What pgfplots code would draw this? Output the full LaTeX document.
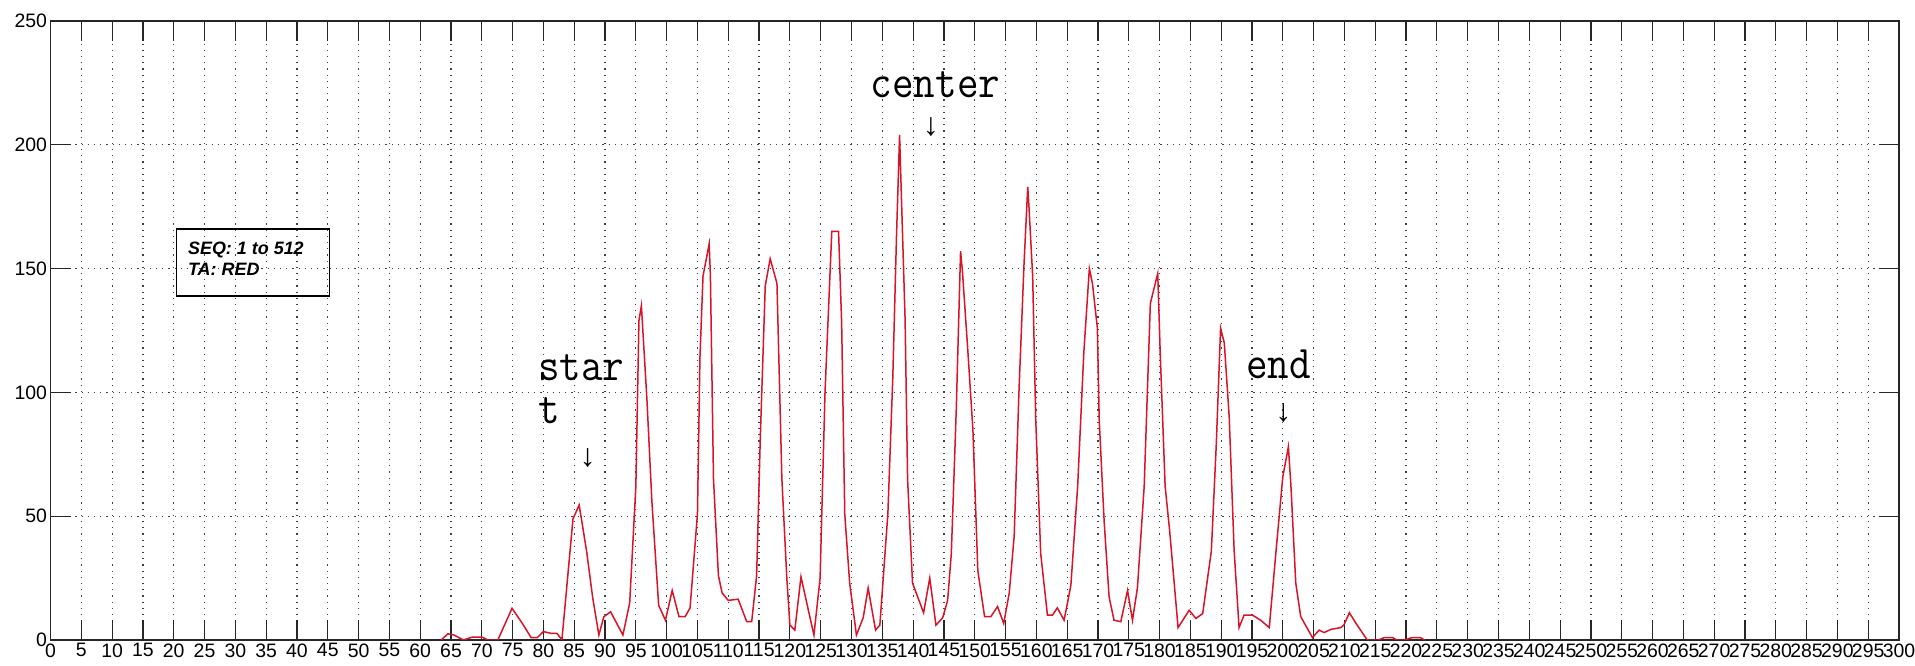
\documentclass[border=0pt]{standalone}
\usepackage{fontspec}
\setmainfont{Liberation Sans}
\newfontfamily\arrowfont{Liberation Mono}
\usepackage{graphicx}
\usepackage{pgfplots}
\pgfplotsset{compat=1.18}
\definecolor{trace}{RGB}{215,20,40}
\newcommand{\lab}[1]{\scalebox{1}[1.12]{#1}}

\begin{document}
\begin{tikzpicture}
\useasboundingbox (-50.5bp,-26bp) rectangle (1864.5bp,640bp);
\begin{axis}[
  at={(0,0)}, anchor=south west,
  scale only axis, width=1848.5bp, height=619bp,
  xmin=0, xmax=300, ymin=0, ymax=250,
  xtick={0,5,...,300}, ytick={0,50,...,250},
  tick align=inside, xtick pos=both, ytick pos=both,
  major tick length=20bp,
  every tick/.style={black!85, line width=1.2bp},
  axis line style={black!85, line width=1.5bp},
  grid=major,
  major grid style={black!75, line width=1.2bp, dash pattern=on 1.2bp off 5bp},
  tick label style={font=\fontsize{19.5}{20}\selectfont},
  /pgf/number format/assume math mode=true,
]
\addplot[trace, line width=1.5bp] table {
x y
63.4 0
64.5 2.5
65.5 2
67 0
68.5 1.2
70 1.2
71 0
72.6 0
74.9 12.8
76.5 7
78 1
79 1
80 3.4
81.2 2.7
82.2 2.7
83 0
84.8 49
85.8 54.5
87 36
88 17
89 2
89.8 9.4
90.9 11.4
92.9 2
94 15
95 62
95.5 129
95.9 135
96.8 97
97.6 56
98.7 14
99.8 8
100.9 20
102 9.4
103 9.4
103.8 13
105 51
105.4 114
105.9 147
106.9 160
107.1 147
107.6 65
108.4 26
109 19
110 16
111.6 16.5
113 7.4
113.8 7.4
114.6 26
115.2 82
116 143
116.8 154
117.9 144
118.7 65
119.5 25
120 6
120.8 4
121.8 25.5
123 12
123.9 2
124.9 25
125.7 100
126.8 165
127.9 165
128.4 128
128.9 51
129.7 23
130.8 2
131.9 9
132.7 21
133.9 4
134.6 6
135.9 51
136.7 106
137.3 163
137.8 204
138.7 129
139.1 65
139.9 23
140.8 17
141.7 11
142.7 25
143.7 6
144.8 9
145.6 16
146.2 35
147 93
147.7 157
148 149
148.9 116
149.7 85
150.5 28
151.6 9.4
152.6 9.4
153.7 13.5
154.7 6.7
155.6 19
156.4 42
157.2 102
158 152
158.6 183
158.8 175
159.4 147
159.9 89
160.7 35
161.8 10
162.6 10
163.4 13
164.5 8
165.6 22
166.7 62
167.7 116
168.6 150
169.1 144
169.9 126
170.2 89
171 48
171.8 17.5
172.6 8
173.7 7.4
174.8 20
175.6 8
176.4 21
177.5 62
178.5 136
179.7 148
180.1 116
180.9 62
181.6 45
183 5
184.8 12
185.9 8.7
187 10.7
188.4 36
189.2 79
189.9 126
190.5 120
191.3 90
192.1 36
192.9 5
193.7 10
195.1 10
196.4 8
197.8 5
198.9 36
200 66
200.9 78
201.3 63
202.1 23
202.9 9.5
204.8 1
205.9 4
206.7 3
207.8 4.3
209.4 5
209.9 6
210.8 11
211.8 7
213.7 0
215.5 0
216.5 1
217.8 1
218.5 0
219.8 0
221 1
222.3 1
223 0
};
% annotations
\node[anchor=base west, inner sep=0, font=\fontsize{42}{42}\selectfont\ttfamily] at (axis cs:79.1,105) {\lab{star}};
\node[anchor=base west, inner sep=0, font=\fontsize{42}{42}\selectfont\ttfamily] at (axis cs:79.1,87.6) {\lab{t}};
\node[inner sep=0, font=\fontsize{32}{32}\selectfont\arrowfont] at (axis cs:87.2,73.5) {↓};
\node[anchor=base west, inner sep=0, font=\fontsize{42}{42}\selectfont\ttfamily] at (axis cs:133.1,219) {\lab{center}};
\node[inner sep=0, font=\fontsize{32}{32}\selectfont\arrowfont] at (axis cs:142.9,207) {↓};
\node[anchor=base west, inner sep=0, font=\fontsize{42}{42}\selectfont\ttfamily] at (axis cs:194.0,105.7) {\lab{end}};
\node[inner sep=0, font=\fontsize{32}{32}\selectfont\arrowfont] at (axis cs:200.1,91.7) {↓};
% info box
\node[draw=black, line width=1.3bp, minimum width=153bp, minimum height=67bp, inner sep=0] at (axis cs:32.9,152.5) {};
\node[anchor=base west, inner sep=0, font=\fontsize{18}{20}\selectfont\bfseries\itshape] at (axis cs:22.3,155.5) {SEQ: 1 to 512};
\node[anchor=base west, inner sep=0, font=\fontsize{18}{20}\selectfont\bfseries\itshape] at (axis cs:22.3,147.4) {TA: RED};
\end{axis}
\end{tikzpicture}
\end{document}
